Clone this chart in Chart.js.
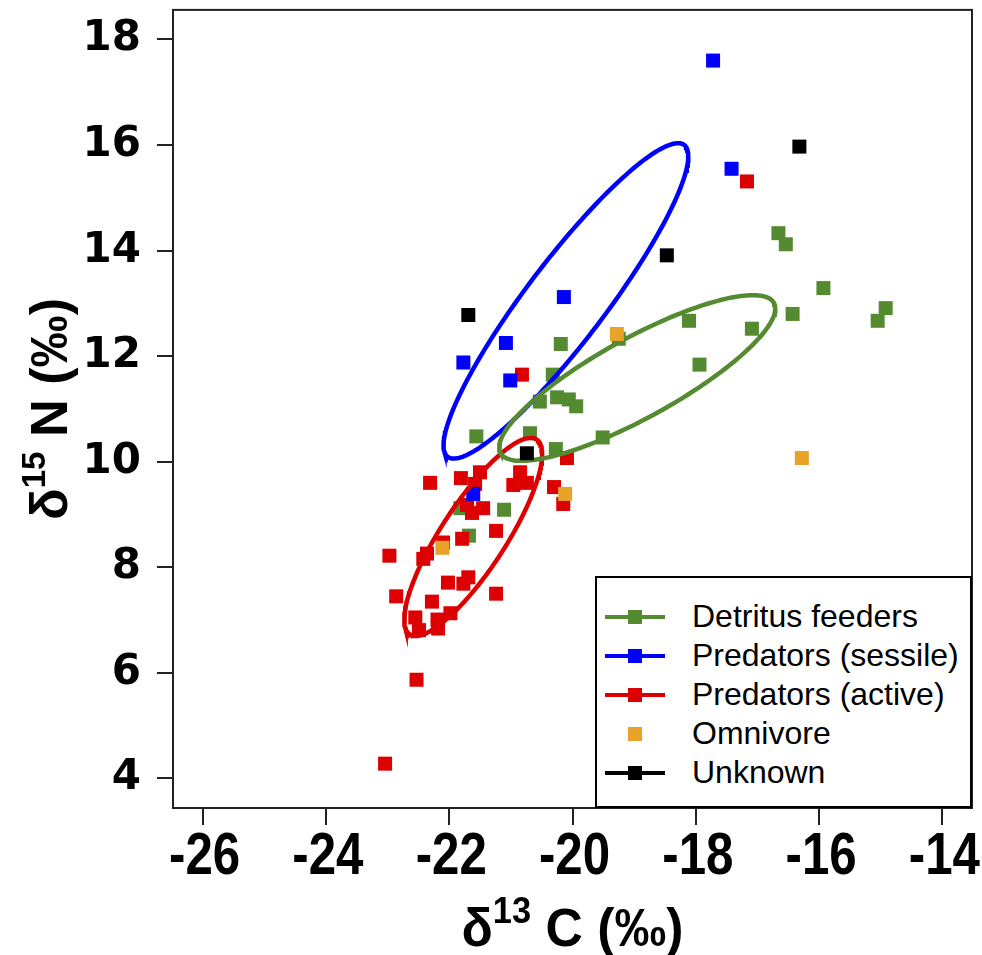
<!DOCTYPE html>
<html>
<head>
<meta charset="utf-8">
<script src="https://cdn.jsdelivr.net/npm/chart.js@4.4.0/dist/chart.umd.min.js"></script>
<style>
  body { margin: 0; background: #fff; }
  #wrap { position: relative; width: 982px; height: 955px; }
  #legend {
    position: absolute; left: 595px; top: 576px; width: 373px; height: 228px;
    border: 2px solid #000; background: #fff; box-sizing: content-box;
    font-family: "Liberation Sans", Arial, sans-serif; font-size: 32px; color: #000;
  }
  .item { position: absolute; left: 0; height: 39px; width: 100%; }
  .swatch { position: absolute; left: 8px; top: 0; width: 60px; height: 39px; }
  .swatch .line { position: absolute; left: 0; right: 0; top: 18px; height: 4px; }
  .swatch .sq { position: absolute; left: 23px; top: 13px; width: 14px; height: 14px; }
  .label { position: absolute; left: 95px; top: 0; line-height: 39px; white-space: nowrap; }
</style>
</head>
<body>
<div id="wrap">
  <canvas id="chart" width="982" height="955"></canvas>
  <div id="legend"></div>
</div>
<script>
// d13C (x) and d15N (y) per feeding group
const detritusC = [-16.66, -16.54, -15.93, -16.43, -14.92, -15.05, -18.11, -17.09, -17.94, -20.19, -19.25, -20.32,
  -20.53, -20.25, -20.06, -19.94, -21.56, -20.69, -19.51, -20.27, -21.11, -21.68, -21.82]
const detritusN = [14.33, 14.12, 13.29, 12.80, 12.91, 12.67, 12.67, 12.52, 11.84, 12.23, 12.33, 11.65,
  11.14, 11.22, 11.18, 11.05, 10.48, 10.54, 10.46, 10.24, 9.09, 8.60, 9.12]

const sessileC = [-17.72, -17.42, -20.14, -21.08, -21.77, -21.01, -21.61]
const sessileN = [17.60, 15.55, 13.12, 12.25, 11.88, 11.54, 9.39]

const activeC = [-17.17, -20.82, -20.09, -22.31, -21.81, -21.50, -21.58, -20.85, -20.96, -20.74, -20.30, -20.15,
  -21.71, -21.63, -21.45, -21.24, -21.79, -22.10, -22.97, -22.36, -22.42, -21.69, -21.77, -22.02,
  -21.24, -22.86, -22.28, -21.98, -22.19, -22.18, -22.55, -22.49, -22.53, -23.04]
const activeN = [15.31, 11.65, 10.07, 9.60, 9.69, 9.80, 9.58, 9.80, 9.56, 9.60, 9.52, 9.20,
  9.18, 9.03, 9.12, 8.69, 8.54, 8.47, 8.22, 8.26, 8.16, 7.81, 7.69, 7.71,
  7.50, 7.45, 7.35, 7.13, 7.01, 6.84, 7.05, 6.81, 5.87, 4.28]

const omnivoreC = [-19.28, -20.12, -22.11, -16.28]
const omnivoreN = [12.42, 9.39, 8.37, 10.07]

const unknownC = [-21.69, -18.47, -16.32, -20.74]
const unknownN = [12.78, 13.91, 15.97, 10.16]

const groupNames = ["Detritus feeders", "Predators (sessile)", "Predators (active)", "Omnivore", "Unknown"]
const groupColors = ["#548B31", "#0000FF", "#DD0000", "#E9A22A", "#000000"]
const groupHasLine = [true, true, true, false, true]

const xTicks = [-26, -24, -22, -20, -18, -16, -14]
const yTicks = [4, 6, 8, 10, 12, 14, 16, 18]

// axis titles: [symbol, superscript, rest]
const xTitle = ["δ", "13", " C (‰)"]
const yTitle = ["δ", "15", " N (‰)"]

const toPoints = (xs, ys) => xs.map((x, i) => ({ x: x, y: ys[i] }))

// SIBER-style standard ellipse (SEAc): covariance with small sample correction
function standardEllipse(xs, ys) {
  const n = xs.length
  const mx = xs.reduce((a, b) => a + b, 0) / n
  const my = ys.reduce((a, b) => a + b, 0) / n
  let sxx = 0, syy = 0, sxy = 0
  for (let i = 0; i < n; i++) {
    sxx += (xs[i] - mx) ** 2
    syy += (ys[i] - my) ** 2
    sxy += (xs[i] - mx) * (ys[i] - my)
  }
  const d = n - 2
  const l11 = Math.sqrt(sxx / d)
  const l21 = (sxy / d) / l11
  const l22 = Math.sqrt(syy / d - l21 * l21)
  const pts = []
  for (let k = 0; k <= 200; k++) {
    const t = 2 * Math.PI * k / 200
    pts.push({ x: mx + l11 * Math.cos(t), y: my + l21 * Math.cos(t) + l22 * Math.sin(t) })
  }
  return pts
}

function pointSet(label, xs, ys, color, order) {
  return {
    label: label,
    data: toPoints(xs, ys),
    backgroundColor: color,
    pointStyle: "rect",
    pointRadius: 9.9,
    pointHoverRadius: 9.9,
    borderWidth: 0,
    order: order
  }
}

function ellipseSet(xs, ys, color) {
  return {
    label: "",
    data: standardEllipse(xs, ys),
    showLine: true,
    borderColor: color,
    borderWidth: 4.5,
    pointRadius: 0,
    fill: false,
    tension: 0,
    order: 3
  }
}

const boxPlugin = {
  id: "box",
  afterDraw(chart) {
    const a = chart.chartArea
    const ctx = chart.ctx
    ctx.save()
    ctx.strokeStyle = "#222"
    ctx.lineWidth = 2
    ctx.strokeRect(a.left, a.top, a.right - a.left, a.bottom - a.top)
    ctx.restore()
  }
}

// title with a raised superscript, fitted to a given length
function drawTitle(ctx, parts, size, supSize, rise, length) {
  const big = `bold ${size}px "Liberation Sans", Arial, sans-serif`
  const small = `bold ${supSize}px "Liberation Sans", Arial, sans-serif`
  ctx.font = big
  const w0 = ctx.measureText(parts[0]).width
  const w2 = ctx.measureText(parts[2]).width
  ctx.font = small
  const w1 = ctx.measureText(parts[1]).width
  const total = w0 + w1 + w2
  ctx.scale(length / total, 1)
  let x = -total / 2
  ctx.textAlign = "left"
  ctx.textBaseline = "alphabetic"
  ctx.font = big
  ctx.fillText(parts[0], x, 0)
  x += w0
  ctx.font = small
  ctx.fillText(parts[1], x, -rise)
  x += w1
  ctx.font = big
  ctx.fillText(parts[2], x, 0)
}

const axisTextPlugin = {
  id: "axisText",
  afterDraw(chart) {
    const ctx = chart.ctx
    const xs = chart.scales.x
    const a = chart.chartArea
    ctx.save()
    ctx.fillStyle = "#000"
    // narrow bold x tick labels
    ctx.font = 'bold 60px "Liberation Sans", Arial, sans-serif'
    ctx.textAlign = "center"
    ctx.textBaseline = "alphabetic"
    xTicks.forEach(v => {
      ctx.save()
      ctx.translate(xs.getPixelForValue(v) + 2, a.bottom + 66)
      ctx.scale(0.82, 1)
      ctx.fillText(String(v), 0, 0)
      ctx.restore()
    })
    // x title
    ctx.save()
    ctx.translate((a.left + a.right) / 2, a.bottom + 138)
    drawTitle(ctx, xTitle, 54, 36, 23, 222)
    ctx.restore()
    // y title
    ctx.save()
    ctx.translate(67, (a.top + a.bottom) / 2)
    ctx.rotate(-Math.PI / 2)
    drawTitle(ctx, yTitle, 52, 33, 22, 222)
    ctx.restore()
    ctx.restore()
  }
}

const ctx = document.getElementById("chart").getContext("2d")
new Chart(ctx, {
  type: "scatter",
  data: {
    datasets: [
      pointSet(groupNames[0], detritusC, detritusN, groupColors[0], 6),
      pointSet(groupNames[1], sessileC, sessileN, groupColors[1], 4),
      pointSet(groupNames[2], activeC, activeN, groupColors[2], 5),
      pointSet(groupNames[3], omnivoreC, omnivoreN, groupColors[3], 2),
      pointSet(groupNames[4], unknownC, unknownN, groupColors[4], 1),
      ellipseSet(detritusC, detritusN, groupColors[0]),
      ellipseSet(sessileC, sessileN, groupColors[1]),
      ellipseSet(activeC, activeN, groupColors[2])
    ]
  },
  options: {
    responsive: false,
    animation: false,
    layout: { padding: { top: 7, right: 10, left: 0, bottom: 0 } },
    plugins: {
      legend: { display: false },
      tooltip: { enabled: false }
    },
    scales: {
      x: {
        type: "linear",
        min: -26.48,
        max: -13.52,
        afterBuildTicks: scale => { scale.ticks = xTicks.map(v => ({ value: v })) },
        afterFit: scale => {
          scale.height = 147
          scale.paddingLeft = 0
          scale.paddingRight = 0
        },
        grid: { drawOnChartArea: false, drawTicks: true, tickLength: 17, color: "#222", lineWidth: 2 },
        border: { display: true, color: "#222", width: 2 },
        ticks: { display: false },
        title: { display: false }
      },
      y: {
        type: "linear",
        min: 3.44,
        max: 18.56,
        afterBuildTicks: scale => { scale.ticks = yTicks.map(v => ({ value: v })) },
        afterFit: scale => {
          scale.width = 173
          scale.paddingTop = 0
          scale.paddingBottom = 0
        },
        grid: { drawOnChartArea: false, drawTicks: true, tickLength: 16, color: "#222", lineWidth: 2 },
        border: { display: true, color: "#222", width: 2 },
        ticks: {
          color: "#000",
          padding: 16,
          autoSkip: false,
          font: { family: "'DejaVu Sans', sans-serif", size: 42, weight: "bold" }
        },
        title: { display: false }
      }
    }
  },
  plugins: [boxPlugin, axisTextPlugin]
})

// legend inside the plot, bottom right
const legend = document.getElementById("legend")
const rowTops = [19, 58, 97, 136, 175]
legend.innerHTML = groupNames.map((name, i) => `
  <div class="item" style="top:${rowTops[i]}px">
    <div class="swatch">
      ${groupHasLine[i] ? `<div class="line" style="background:${groupColors[i]}"></div>` : ""}
      <div class="sq" style="background:${groupColors[i]}"></div>
    </div>
    <div class="label">${name}</div>
  </div>
`).join("")
</script>
</body>
</html>
